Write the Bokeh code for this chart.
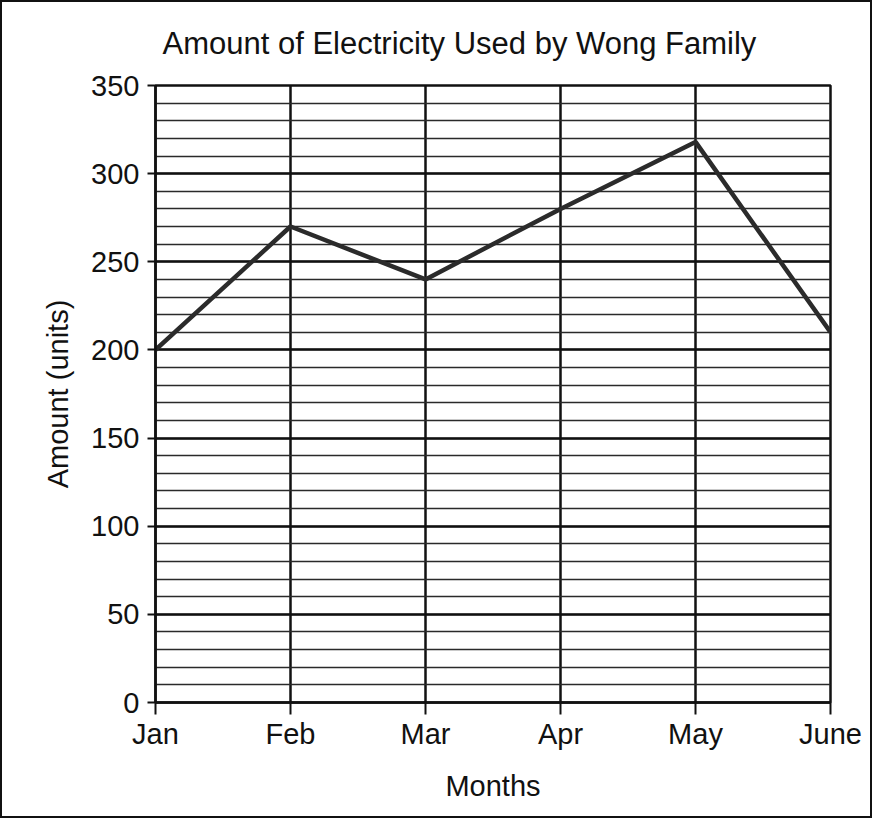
from bokeh.plotting import figure
from bokeh.models import FixedTicker, Range1d, Title
from bokeh.embed import file_html
from bokeh.resources import INLINE

title_text = "Amount of Electricity Used by Wong Family"
months = ["Jan", "Feb", "Mar", "Apr", "May", "June"]
amounts = [200, 270, 240, 280, 318, 210]
y_ticks = [0, 50, 100, 150, 200, 250, 300, 350]
y_minor = list(range(0, 351, 10))

xs = list(range(len(months)))
FONT = "Liberation Sans"

p = figure(width=872, height=818, output_backend="svg", toolbar_location=None,
           x_range=Range1d(0, len(months) - 1), y_range=Range1d(0, 350),
           min_border_left=153, min_border_right=44, min_border_top=83, min_border_bottom=118)
p.styles = {"border": "2px solid #111"}
p.background_fill_color = "white"
p.border_fill_color = "white"
p.outline_line_color = "#111"
p.outline_line_width = 2.5

p.title = Title(text=title_text, align="left", vertical_align="top",
                text_font=FONT, text_font_size="31px", text_font_style="normal",
                text_color="#111", standoff=46, offset=7)

p.xaxis.ticker = FixedTicker(ticks=xs)
p.xaxis.major_label_overrides = {i: m for i, m in enumerate(months)}
p.yaxis.ticker = FixedTicker(ticks=y_ticks, minor_ticks=y_minor)
p.ygrid.ticker = FixedTicker(ticks=y_ticks, minor_ticks=y_minor)
p.xgrid.ticker = FixedTicker(ticks=xs)

for ax in (p.xaxis[0], p.yaxis[0]):
    ax.axis_line_color = "#111"
    ax.axis_line_width = 2.5
    ax.major_tick_line_color = "#111"
    ax.major_tick_line_width = 2
    ax.major_tick_in = 0
    ax.minor_tick_line_color = None
    ax.major_label_text_font = FONT
    ax.major_label_text_font_size = "29px"
    ax.major_label_text_color = "#111"
    ax.axis_label_text_font = FONT
    ax.axis_label_text_font_size = "29px"
    ax.axis_label_text_font_style = "normal"
    ax.axis_label_text_color = "#111"

p.xaxis.major_tick_out = 12
p.xaxis.major_label_standoff = 3
p.xaxis.axis_label = "Months"
p.xaxis.axis_label_standoff = 17
p.yaxis.major_tick_out = 8
p.yaxis.major_label_standoff = 8
p.yaxis.axis_label = "Amount (units)"
p.yaxis.axis_label_standoff = 14

p.xgrid.grid_line_color = "#111"
p.xgrid.grid_line_width = 2.5
p.ygrid.grid_line_color = "#111"
p.ygrid.grid_line_width = 2.5
p.ygrid.minor_grid_line_color = "#2a2a2a"
p.ygrid.minor_grid_line_width = 1.6

p.line(xs, amounts, line_color="#2b2b2b", line_width=4.5)

open("out.html", "w").write(file_html(p, INLINE))
